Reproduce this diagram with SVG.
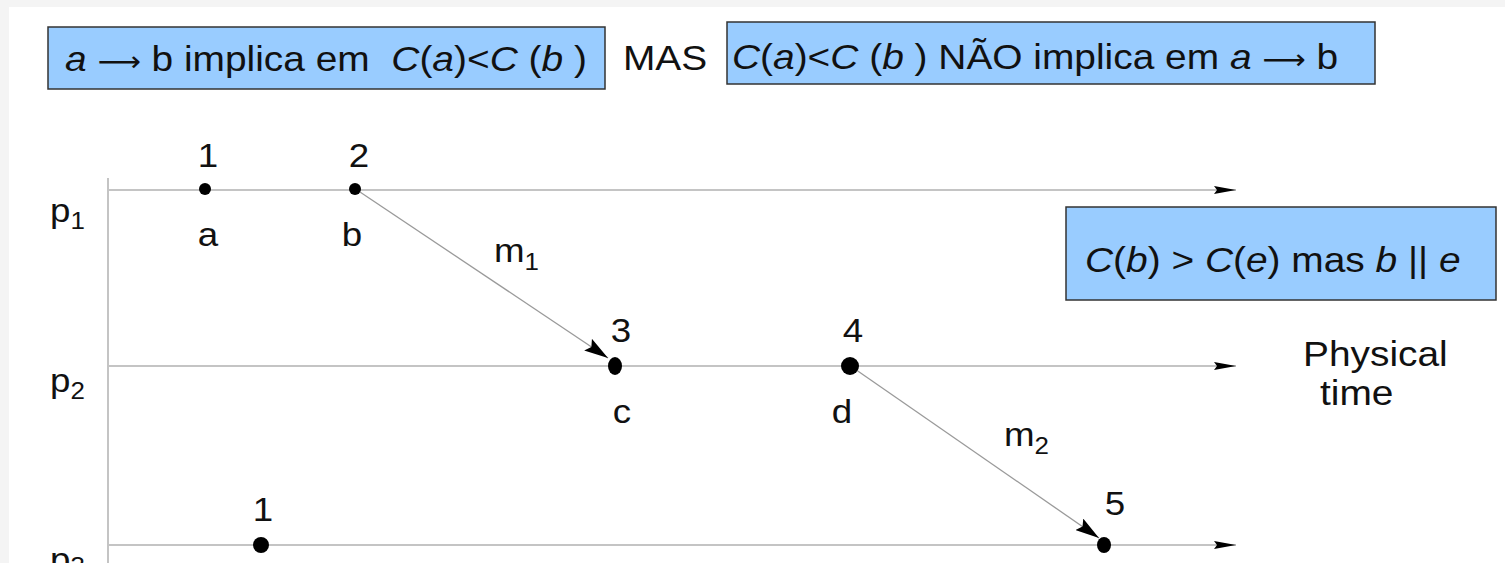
<svg xmlns="http://www.w3.org/2000/svg" width="1505" height="563" viewBox="0 0 1505 563">
<style>
  text { font-family: "Liberation Sans", Arial, sans-serif; fill: #111; }
  .big { font-size: 36px; }
  .lbl { font-size: 34px; }
  .sub { font-size: 24px; }
  .arr { font-family: "DejaVu Sans", sans-serif; font-size: 28px; }
  .box { fill: #99ccff; stroke: #333; stroke-width: 1.5; }
  .tl { stroke: #c4c4c4; stroke-width: 2; fill: none; }
  .msg { stroke: #9a9a9a; stroke-width: 1.3; fill: none; }
  .dot { fill: #000; }
</style>
<defs>
  <marker id="tlArrow" markerWidth="22" markerHeight="8" refX="22" refY="4" orient="auto" markerUnits="userSpaceOnUse">
    <path d="M0,0 L22,4 L0,8 L3,4 Z" fill="#000"/>
  </marker>
  <marker id="msgArrow" markerWidth="24" markerHeight="14" refX="24" refY="7" orient="auto" markerUnits="userSpaceOnUse">
    <path d="M0,0 L24,7 L0,14 L4,7 Z" fill="#000"/>
  </marker>
</defs>
<rect x="0" y="0" width="1505" height="563" fill="#f4f4f4"/>
<rect x="9" y="7" width="1496" height="556" fill="#ffffff"/>

<g id="box1">
  <rect class="box" x="48" y="27" width="557" height="62"/>
  <text class="big" xml:space="preserve" transform="translate(65,71) scale(1.08,1)"><tspan font-style="italic">a</tspan> <tspan class="arr">⟶</tspan> b implica em  <tspan font-style="italic">C</tspan>(<tspan font-style="italic">a</tspan>)&lt;<tspan font-style="italic">C</tspan> (<tspan font-style="italic">b</tspan> )</text>
</g>
<g id="mas">
  <text class="big" transform="translate(623,70) scale(1.08,1)">MAS</text>
</g>
<g id="box2">
  <rect class="box" x="727" y="22" width="648" height="62"/>
  <text class="big" xml:space="preserve" transform="translate(732,69) scale(1.08,1)"><tspan font-style="italic">C</tspan>(<tspan font-style="italic">a</tspan>)&lt;<tspan font-style="italic">C</tspan> (<tspan font-style="italic">b</tspan> ) NÃO implica em <tspan font-style="italic">a</tspan> <tspan class="arr">⟶</tspan> b</text>
</g>
<g id="box3">
  <rect class="box" x="1066" y="207" width="430" height="93"/>
  <text class="big" transform="translate(1085,272) scale(1.08,1)"><tspan font-style="italic">C</tspan>(<tspan font-style="italic">b</tspan>) &gt; <tspan font-style="italic">C</tspan>(<tspan font-style="italic">e</tspan>) mas <tspan font-style="italic">b</tspan> || <tspan font-style="italic">e</tspan></text>
</g>

<g id="axes">
  <line class="tl" x1="108" y1="178" x2="108" y2="563"/>
  <line class="tl" x1="108" y1="190" x2="1236" y2="190" marker-end="url(#tlArrow)"/>
  <line class="tl" x1="108" y1="366" x2="1236" y2="366" marker-end="url(#tlArrow)"/>
  <line class="tl" x1="108" y1="545" x2="1236" y2="545" marker-end="url(#tlArrow)"/>
</g>

<g id="connectors">
  <line class="msg" x1="357" y1="190" x2="608" y2="358" marker-end="url(#msgArrow)"/>
  <line class="msg" x1="852" y1="367" x2="1099" y2="538" marker-end="url(#msgArrow)"/>
  <text class="lbl" transform="translate(494,262) scale(1.08,1)">m<tspan class="sub" dy="8">1</tspan></text>
  <text class="lbl" transform="translate(1004,446) scale(1.08,1)">m<tspan class="sub" dy="8">2</tspan></text>
</g>

<g id="p1">
  <text class="lbl" transform="translate(50,222) scale(1.08,1)">p<tspan class="sub" dy="7">1</tspan></text>
</g>
<g id="p2">
  <text class="lbl" transform="translate(50,392) scale(1.08,1)">p<tspan class="sub" dy="7">2</tspan></text>
</g>
<g id="p3">
  <text class="lbl" transform="translate(50,571) scale(1.08,1)">p<tspan class="sub" dy="3">3</tspan></text>
</g>

<g id="event-a">
  <circle class="dot" cx="205" cy="189" r="6"/>
  <text class="lbl" text-anchor="middle" transform="translate(208,167) scale(1.08,1)">1</text>
  <text class="lbl" text-anchor="middle" transform="translate(208,246) scale(1.08,1)">a</text>
</g>
<g id="event-b">
  <circle class="dot" cx="355" cy="189" r="6"/>
  <text class="lbl" text-anchor="middle" transform="translate(359,167) scale(1.08,1)">2</text>
  <text class="lbl" text-anchor="middle" transform="translate(352,246) scale(1.08,1)">b</text>
</g>
<g id="event-c">
  <ellipse class="dot" cx="615" cy="366" rx="7" ry="9"/>
  <text class="lbl" text-anchor="middle" transform="translate(621,342) scale(1.08,1)">3</text>
  <text class="lbl" text-anchor="middle" transform="translate(622,423) scale(1.08,1)">c</text>
</g>
<g id="event-d">
  <circle class="dot" cx="850" cy="366" r="9"/>
  <text class="lbl" text-anchor="middle" transform="translate(853,342) scale(1.08,1)">4</text>
  <text class="lbl" text-anchor="middle" transform="translate(842,423) scale(1.08,1)">d</text>
</g>
<g id="event-p3-1">
  <circle class="dot" cx="261" cy="545" r="8"/>
  <text class="lbl" text-anchor="middle" transform="translate(263,521) scale(1.08,1)">1</text>
</g>
<g id="event-e">
  <ellipse class="dot" cx="1104" cy="545" rx="7" ry="8"/>
  <text class="lbl" text-anchor="middle" transform="translate(1115,515) scale(1.08,1)">5</text>
</g>

<g id="physical-time">
  <text class="big" transform="translate(1303,366) scale(1.08,1)">Physical</text>
  <text class="big" transform="translate(1320,405) scale(1.08,1)">time</text>
</g>
</svg>
